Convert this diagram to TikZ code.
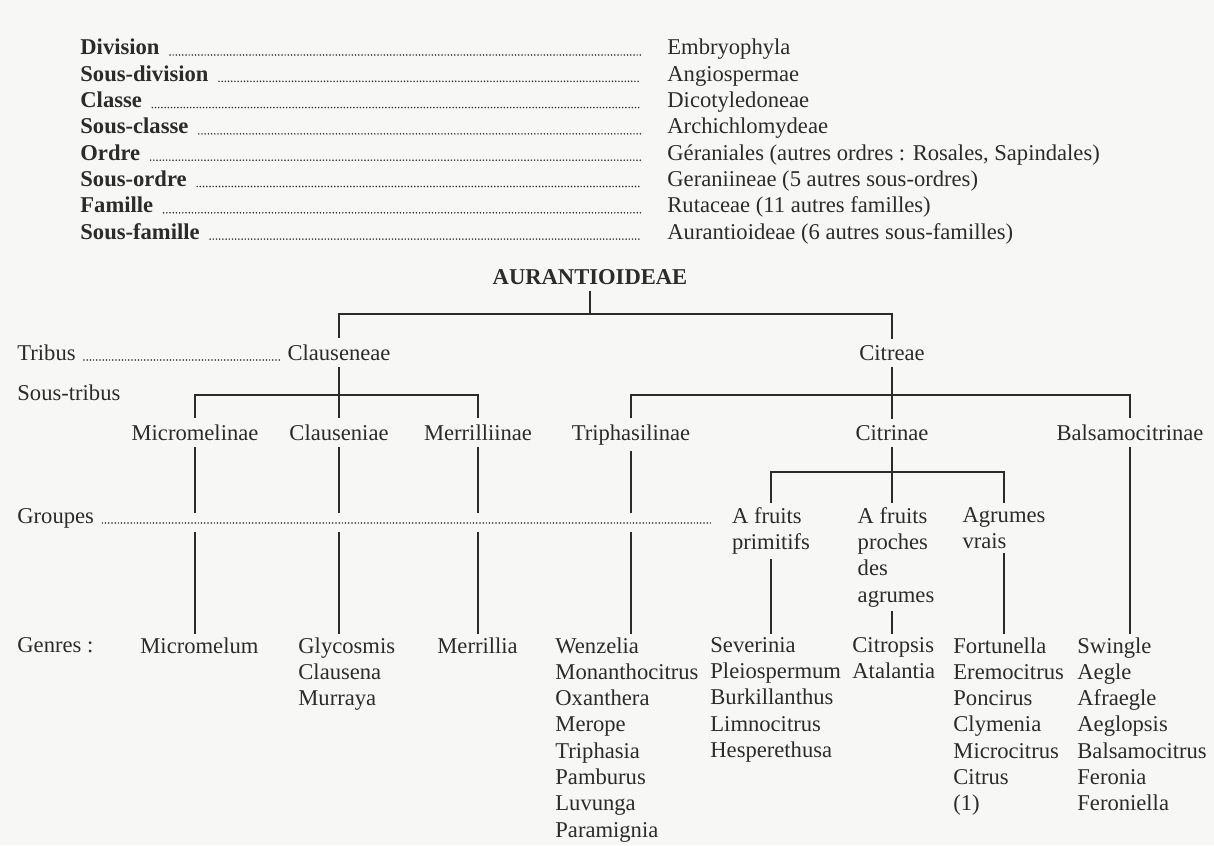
\documentclass[tikz,border=0pt]{standalone}
\usepackage{fontspec}
\setmainfont{Liberation Serif}
\usepackage{tikz}
\definecolor{ink}{HTML}{2B2B2B}
\definecolor{paper}{HTML}{F7F7F5}

\begin{document}
\begin{tikzpicture}[x=0.5pt,y=-0.5pt]
                \tikzstyle{every node}+=[inner sep=0pt, text=ink, font=\fontsize{11.3}{13.15}\selectfont]
                \tikzstyle{rank}=[anchor=base west, font=\fontsize{11.3}{13.15}\selectfont\bfseries]
                \tikzstyle{value}=[anchor=base west]
                \tikzstyle{level}=[anchor=base west]
                \tikzstyle{taxon}=[anchor=base, inner sep=3pt]
                \tikzstyle{group}=[anchor=north, align=left, inner sep=2pt]
                \tikzstyle{genus}=[anchor=north west, align=left, inner sep=1.5pt]
                \tikzstyle{branch}=[draw=ink, line width=0.9pt]
                \tikzstyle{leader}=[draw=ink, line width=0.85pt, line cap=round, dash pattern=on 0pt off 1.6pt]
                \fill [paper] (0,0) rectangle (1214,845);
                \useasboundingbox (0,0) rectangle (1214,845);
                \node [rank] (division) at (80,55) {Division};
                \node [value] (embryophyla) at (667,55) {Embryophyla};
                \node [rank] (sousdivision) at (80,81.3) {Sous-division};
                \node [value] (angiospermae) at (667,81.3) {Angiospermae};
                \node [rank] (classe) at (80,107.6) {Classe};
                \node [value] (dicotyledoneae) at (667,107.6) {Dicotyledoneae};
                \node [rank] (sousclasse) at (80,133.9) {Sous-classe};
                \node [value] (archichlomydeae) at (667,133.9) {Archichlomydeae};
                \node [rank] (ordre) at (80,160.2) {Ordre};
                \node [value] (geraniales) at (667,160.2) {Géraniales (autres ordres~: Rosales, Sapindales)};
                \node [rank] (sousordre) at (80,186.5) {Sous-ordre};
                \node [value] (geraniineae) at (667,186.5) {Geraniineae (5 autres sous-ordres)};
                \node [rank] (famille) at (80,212.8) {Famille};
                \node [value] (rutaceae) at (667,212.8) {Rutaceae (11 autres familles)};
                \node [rank] (sousfamille) at (80,239.1) {Sous-famille};
                \node [value] (aurantioideae) at (667,239.1) {Aurantioideae (6 autres sous-familles)};
                \draw [leader, shorten <=5pt, shorten >=13pt] (division.base east) -- (embryophyla.base west);
                \draw [leader, shorten <=5pt, shorten >=13pt] (sousdivision.base east) -- (angiospermae.base west);
                \draw [leader, shorten <=5pt, shorten >=13pt] (classe.base east) -- (dicotyledoneae.base west);
                \draw [leader, shorten <=5pt, shorten >=13pt] (sousclasse.base east) -- (archichlomydeae.base west);
                \draw [leader, shorten <=5pt, shorten >=13pt] (ordre.base east) -- (geraniales.base west);
                \draw [leader, shorten <=5pt, shorten >=13pt] (sousordre.base east) -- (geraniineae.base west);
                \draw [leader, shorten <=5pt, shorten >=13pt] (famille.base east) -- (rutaceae.base west);
                \draw [leader, shorten <=5pt, shorten >=13pt] (sousfamille.base east) -- (aurantioideae.base west);
                \node [taxon, font=\fontsize{11.3}{13.15}\selectfont\bfseries] (aur) at (590,284) {AURANTIOIDEAE};
                \node [level] (tribus) at (17,360) {Tribus};
                \node [level] (soustribus) at (17,400) {Sous-tribus};
                \node [level] (groupes) at (17,523) {Groupes};
                \node [level] (genres) at (17,652) {Genres~:};
                \node [taxon] (clauseneae) at (339,360) {Clauseneae};
                \node [taxon] (citreae) at (892,360) {Citreae};
                \node [taxon] (micromelinae) at (195,440) {Micromelinae};
                \node [taxon] (clauseniae) at (339,440) {Clauseniae};
                \node [taxon] (merrilliinae) at (478,440) {Merrilliinae};
                \node [taxon] (triphasilinae) at (631,440) {Triphasilinae};
                \node [taxon] (citrinae) at (892,440) {Citrinae};
                \node [taxon] (balsamocitrinae) at (1130,440) {Balsamocitrinae};
                \node [group] (primitifs) at (771,503) {A fruits\\primitifs};
                \node [group] (proches) at (896,503) {A fruits\\proches\\des\\agrumes};
                \node [group] (vrais) at (1004,503) {Agrumes\\vrais};
                \node [genus] (micromelum) at (137,634) {Micromelum};
                \node [genus] (glycosmis) at (295,634) {Glycosmis\\Clausena\\Murraya};
                \node [genus] (merrillia) at (434,634) {Merrillia};
                \node [genus] (wenzelia) at (552,634) {Wenzelia\\Monanthocitrus\\Oxanthera\\Merope\\Triphasia\\Pamburus\\Luvunga\\Paramignia};
                \node [genus] (severinia) at (707,634) {Severinia\\Pleiospermum\\Burkillanthus\\Limnocitrus\\Hesperethusa};
                \node [genus] (citropsis) at (849,634) {Citropsis\\Atalantia};
                \node [genus] (fortunella) at (950,634) {Fortunella\\Eremocitrus\\Poncirus\\Clymenia\\Microcitrus\\Citrus\\(1)};
                \node [genus] (swingle) at (1074,634) {Swingle\\Aegle\\Afraegle\\Aeglopsis\\Balsamocitrus\\Feronia\\Feroniella};
                \coordinate (tribar) at (590,314);
                \coordinate (clbar) at (339,395);
                \coordinate (cibar) at (892,395);
                \coordinate (grbar) at (892,472);
                \coordinate (gtop) at (0,513);
                \coordinate (gbot) at (0,532);
                \coordinate (gend) at (712,523);
                \draw [leader, shorten <=4pt] (tribus.base east) -- (clauseneae.base west);
                \draw [leader, shorten <=4pt] (groupes.base east) -- (gend);
                \draw [branch] (aur.south) -- (tribar);
                \draw [branch] (clauseneae.north) |- (tribar) -| (citreae.north);
                \draw [branch] (clauseneae.south) -- (clauseniae.north);
                \draw [branch] (micromelinae.north) |- (clbar) -| (merrilliinae.north);
                \draw [branch] (citreae.south) -- (citrinae.north);
                \draw [branch] (triphasilinae.north) |- (cibar) -| (balsamocitrinae.north);
                \draw [branch] (micromelinae.south) -- (micromelinae.south |- gtop);
                \draw [branch] (micromelinae.south |- gbot) -- (micromelinae.south |- micromelum.north);
                \draw [branch] (clauseniae.south) -- (clauseniae.south |- gtop);
                \draw [branch] (clauseniae.south |- gbot) -- (clauseniae.south |- glycosmis.north);
                \draw [branch] (merrilliinae.south) -- (merrilliinae.south |- gtop);
                \draw [branch] (merrilliinae.south |- gbot) -- (merrilliinae.south |- merrillia.north);
                \draw [branch] (triphasilinae.south) -- (triphasilinae.south |- gtop);
                \draw [branch] (triphasilinae.south |- gbot) -- (triphasilinae.south |- wenzelia.north);
                \draw [branch] (citrinae.south) -- (citrinae.south |- proches.north);
                \draw [branch] (primitifs.north) |- (grbar) -| (vrais.north);
                \draw [branch] (primitifs.south) -- (primitifs.south |- severinia.north);
                \draw [branch] (citrinae.south |- proches.south) -- (citrinae.south |- citropsis.north);
                \draw [branch] (vrais.south) -- (vrais.south |- fortunella.north);
                \draw [branch] (balsamocitrinae.south) -- (balsamocitrinae.south |- swingle.north);
            \end{tikzpicture}
\end{document}
